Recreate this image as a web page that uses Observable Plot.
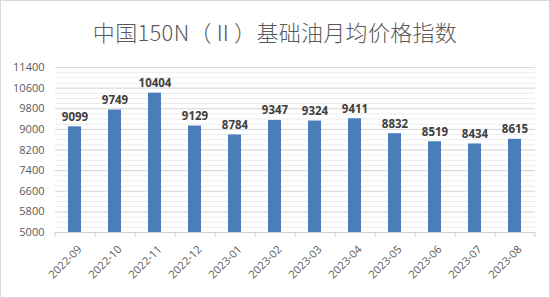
<!DOCTYPE html>
<html><head><meta charset="utf-8">
<script src="https://cdn.jsdelivr.net/npm/d3@7"></script>
<script src="https://cdn.jsdelivr.net/npm/@observablehq/plot@0.6"></script>
<style>
body{margin:0;background:#fff;}
#wrap{width:548px;height:296px;border:1px solid #d9d9d9;position:relative;background:#fff;overflow:hidden;}
#title{height:50px;line-height:60px;text-align:center;font-family:"Noto Sans CJK SC",sans-serif;font-size:22px;font-weight:300;letter-spacing:0.3px;color:#595959;}
#chart svg{display:block;}
</style></head>
<body><div id="wrap"><div id="title">中国150N（Ⅱ）基础油月均价格指数</div><div id="chart"></div></div>
<script>
const months = ["2022-09","2022-10","2022-11","2022-12","2023-01","2023-02","2023-03","2023-04","2023-05","2023-06","2023-07","2023-08"];
const values = [9099,9749,10404,9129,8784,9347,9324,9411,8832,8519,8434,8615];
const yTicks = [5000,5800,6600,7400,8200,9000,9800,10600,11400];
const minorTicks = d3.range(5000, 11401, 200);
const data = months.map((m,i)=>({month:m, value:values[i]}));

const W = 548, ml = 54, mr = 14;
const step = (W - ml - mr) / months.length;

const chart = Plot.plot({
  width: W, height: 246,
  marginLeft: ml, marginRight: mr, marginTop: 16, marginBottom: 65,
  style: {fontFamily: "'Open Sans', 'Liberation Sans', sans-serif", background: "#fff"},
  x: {domain: months, paddingInner: 0.67, paddingOuter: 0.335, label: null},
  y: {domain: [5000, 11400], label: null},
  marks: [
    Plot.ruleY(minorTicks, {y: d=>d, stroke: "#ececec", strokeWidth: 1}),
    Plot.ruleY(yTicks, {y: d=>d, stroke: "#d9d9d9", strokeWidth: 1}),
    Plot.barY(data, {x: "month", y1: 5000, y2: "value", fill: "#4a7ebb"}),
    Plot.ruleY([5000], {stroke: "#d0d0d0"}),
    Plot.ruleX(months, {x: d=>d, y1: 5000, y2: 5000, insetBottom: -5, dx: -step/2, stroke: "#d0d0d0"}),
    Plot.ruleX([months[months.length-1]], {x: d=>d, y1: 5000, y2: 5000, insetBottom: -5, dx: step/2, stroke: "#d0d0d0"}),
    Plot.text(data, {x: "month", y: "value", text: d=>String(d.value), lineAnchor: "bottom", dy: -6, fontWeight: "bold", fontSize: 11.5, fill: "#404040", style: {letterSpacing: "0.4px"}}),
    Plot.axisY({ticks: yTicks, tickSize: 0, tickPadding: 11, fontSize: 11, fill: "#595959", tickFormat: d=>String(d), label: null}),
    Plot.axisX({tickSize: 0, tickRotate: -45, tickPadding: 15, fontSize: 11, fill: "#595959", label: null, dx: 5})
  ]
});
document.getElementById("chart").appendChild(chart);
</script></body></html>
